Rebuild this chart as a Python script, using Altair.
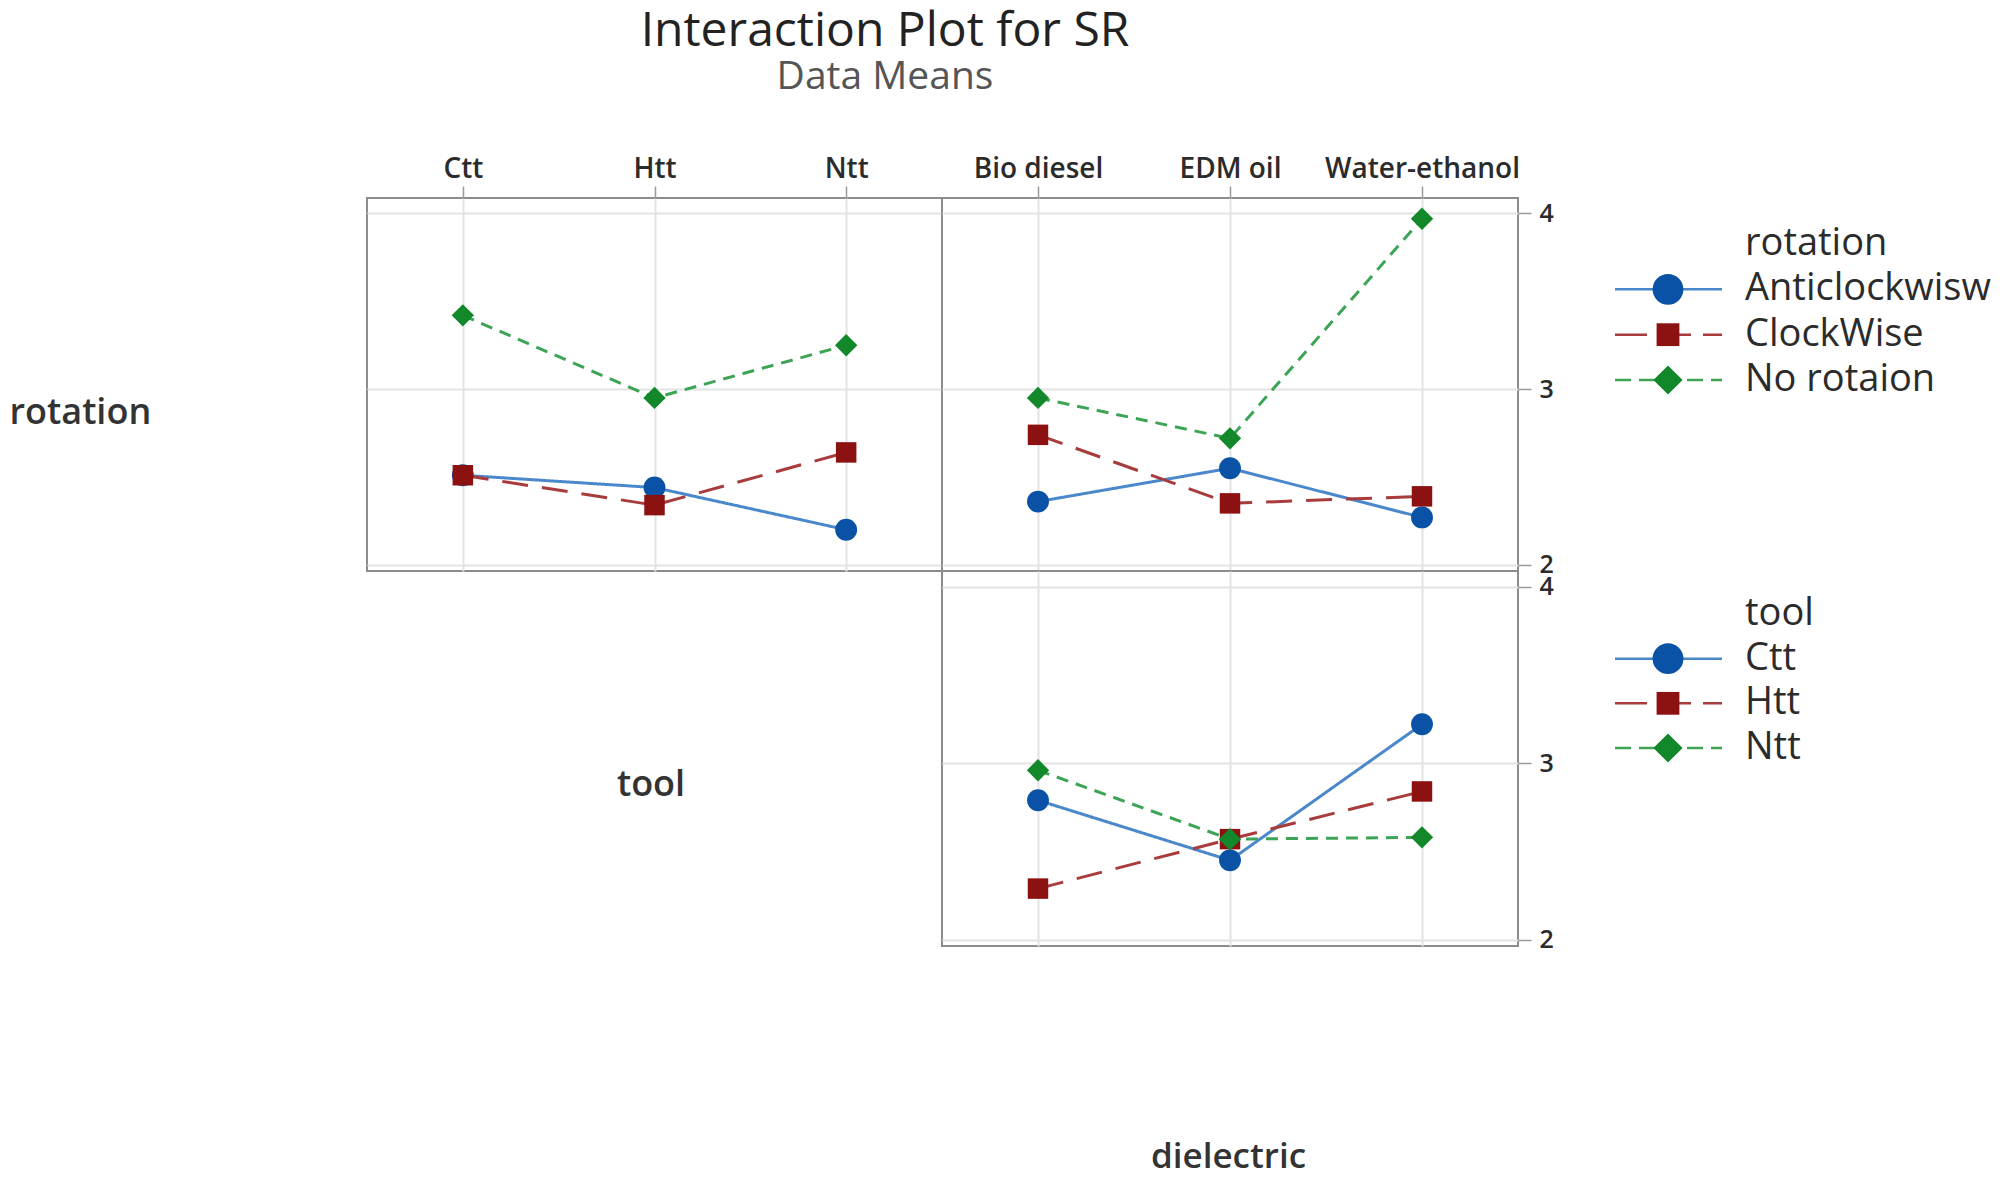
import altair as alt
import pandas as pd

FONT = "Open Sans"

# ---- categories ----
tools = ["Ctt", "Htt", "Ntt"]
dielectrics = ["Bio diesel", "EDM oil", "Water-ethanol"]
rotations = ["Anticlockwisw", "ClockWise", "No rotaion"]

# ---- data means (SR) ----
# rotation x tool (x = tool)
rt_anticlockwise = [2.51, 2.44, 2.20]
rt_clockwise = [2.51, 2.34, 2.64]
rt_norotation = [3.42, 2.95, 3.25]
# rotation x dielectric (x = dielectric)
rd_anticlockwise = [2.36, 2.55, 2.27]
rd_clockwise = [2.74, 2.35, 2.39]
rd_norotation = [2.95, 2.72, 3.97]
# tool x dielectric (x = dielectric)
td_ctt = [2.79, 2.45, 3.22]
td_htt = [2.29, 2.57, 2.84]
td_ntt = [2.96, 2.57, 2.58]

y_ticks = [2, 3, 4]

# ---- styles ----
marker_colors = ["#0A52A6", "#8C1212", "#12882A"]
line_colors = ["#4A88CB", "#A83C3C", "#3DA456"]
dash_styles = [[1, 0], [26, 14], [12, 8]]
legend_dash_styles = [[1, 0], [32, 12], [16, 8]]
shape_styles = ["circle", "square", "diamond"]
panel_sizes = [480, 420, 500]
legend_sizes = [950, 520, 850]

Y_DOMAIN = [1.965, 4.088]
GRID = "#E3E3E3"
TEXT = "#2B2B2B"
ROWLAB = "#333333"


def frame(xvals, series_names, series_values, xname, sname):
    rows = []
    for name, vals in zip(series_names, series_values):
        for xv, v in zip(xvals, vals):
            rows.append({xname: xv, sname: name, "SR": v})
    return pd.DataFrame(rows)


df_rt = frame(tools, rotations, [rt_anticlockwise, rt_clockwise, rt_norotation], "tool", "rotation")
df_rd = frame(dielectrics, rotations, [rd_anticlockwise, rd_clockwise, rd_norotation], "dielectric", "rotation")
df_td = frame(dielectrics, tools, [td_ctt, td_htt, td_ntt], "dielectric", "tool")


def panel(df, xfield, xdomain, sfield, sdomain, w, h, xaxis, yaxis):
    base = alt.Chart(df).encode(
        x=alt.X(f"{xfield}:N", sort=xdomain,
                scale=alt.Scale(type="point", domain=xdomain, padding=0.5), axis=xaxis),
        y=alt.Y("SR:Q", scale=alt.Scale(domain=Y_DOMAIN, nice=False, zero=False), axis=yaxis),
    )
    lines = base.mark_line(strokeWidth=3).encode(
        color=alt.Color(f"{sfield}:N", scale=alt.Scale(domain=sdomain, range=line_colors), legend=None),
        strokeDash=alt.StrokeDash(f"{sfield}:N", scale=alt.Scale(domain=sdomain, range=dash_styles), legend=None),
    )
    points = base.mark_point(filled=True, opacity=1).encode(
        color=alt.Color(f"{sfield}:N", scale=alt.Scale(domain=sdomain, range=marker_colors), legend=None),
        shape=alt.Shape(f"{sfield}:N", scale=alt.Scale(domain=sdomain, range=shape_styles), legend=None),
        size=alt.Size(f"{sfield}:N", scale=alt.Scale(type="ordinal", domain=sdomain, range=panel_sizes),
                      legend=None),
    )
    return alt.layer(lines, points).resolve_scale(color="independent").properties(width=w, height=h)


def top_xaxis():
    return alt.Axis(orient="top", title=None, labelAngle=0, labelFontSize=28, labelFontWeight=600,
                    labelColor=TEXT, labelPadding=3, labelLimit=400, ticks=True, tickSize=12,
                    tickColor="#9A9A9A", tickWidth=1.5, domain=False, grid=True)


def right_yaxis():
    return alt.Axis(orient="right", values=y_ticks, format="d", labelFontSize=25, labelFontWeight=600,
                    labelColor=TEXT, labelPadding=8, tickSize=13, tickColor="#9A9A9A", tickWidth=1.5,
                    domain=False, grid=True, title=None)


pA = panel(
    df_rt, "tool", tools, "rotation", rotations, 575, 373,
    top_xaxis(),
    alt.Axis(orient="left", values=y_ticks, labels=False, ticks=False, domain=False, grid=True,
             title="rotation", titleAngle=0, titleX=-358, titleY=214, titleAlign="left",
             titleBaseline="middle", titleFontSize=36, titleFontWeight=600, titleColor=ROWLAB),
)

pB = panel(df_rd, "dielectric", dielectrics, "rotation", rotations, 576, 373, top_xaxis(), right_yaxis())

pC = panel(
    df_td, "dielectric", dielectrics, "tool", tools, 576, 375,
    alt.Axis(orient="bottom", labels=False, ticks=False, domain=False, grid=True,
             title="dielectric", titleX=286, titleY=210, titleAlign="center", titleBaseline="middle",
             titleFontSize=35, titleFontWeight=600, titleColor=ROWLAB),
    right_yaxis(),
)

# empty lower-left cell carrying the "tool" row label
spacer = alt.Chart(pd.DataFrame({"label": ["tool"]})).mark_text(
    align="center", baseline="middle", fontSize=36, fontWeight=600, font=FONT, color=ROWLAB
).encode(x=alt.value(284), y=alt.value(214), text="label:N").properties(
    width=575, height=375, view=alt.ViewBackground(strokeOpacity=0))


def legend_chart(title, names, w, h, yrange):
    ydom = [title] + names
    yenc = alt.Y("label:N", scale=alt.Scale(type="point", domain=ydom, range=yrange, padding=0), axis=None)
    df_items = pd.DataFrame({"label": names})
    df_title = pd.DataFrame({"label": [title]})
    rule = alt.Chart(df_items).mark_rule(strokeWidth=2.5).encode(
        x=alt.value(97), x2=alt.value(204), y=yenc,
        color=alt.Color("label:N", scale=alt.Scale(domain=names, range=line_colors), legend=None),
        strokeDash=alt.StrokeDash("label:N", scale=alt.Scale(domain=names, range=legend_dash_styles),
                                  legend=None),
    )
    pts = alt.Chart(df_items).mark_point(filled=True, opacity=1).encode(
        x=alt.value(150), y=yenc,
        color=alt.Color("label:N", scale=alt.Scale(domain=names, range=marker_colors), legend=None),
        shape=alt.Shape("label:N", scale=alt.Scale(domain=names, range=shape_styles), legend=None),
        size=alt.Size("label:N", scale=alt.Scale(type="ordinal", domain=names, range=legend_sizes),
                      legend=None),
    )
    txt = alt.Chart(df_items).mark_text(align="left", baseline="middle", fontSize=38, font=FONT,
                                        color=TEXT).encode(x=alt.value(227), y=yenc, text="label:N")
    ttl = alt.Chart(df_title).mark_text(align="left", baseline="middle", fontSize=38, font=FONT,
                                        color=TEXT).encode(x=alt.value(227), y=yenc, text="label:N")
    return alt.layer(rule, pts, txt, ttl).resolve_scale(color="independent", size="independent").properties(
        width=w, height=h, view=alt.ViewBackground(strokeOpacity=0))


L1 = legend_chart("rotation", rotations, 470, 373, [46, 182])
L2 = legend_chart("tool", tools, 470, 375, [43, 177])

chart = alt.concat(pA, pB, L1, spacer, pC, L2, columns=3, spacing=0, bounds="flush").properties(
    title=alt.TitleParams(
        text="Interaction Plot for SR", subtitle="Data Means",
        fontSize=48, subtitleFontSize=39, font=FONT, subtitleFont=FONT,
        color="#222222", subtitleColor="#555555", fontWeight="normal",
        frame="group", anchor="start", align="center", dx=518, offset=57, subtitlePadding=2,
    ),
    padding=0,
).resolve_scale(
    size="independent", shape="independent", color="independent", strokeDash="independent"
).configure_view(
    stroke="#8C8C8C", strokeWidth=2
).configure_axis(
    labelFont=FONT, titleFont=FONT, gridColor=GRID, gridWidth=2
)

chart.save("out.html", embed_options={"renderer": "svg", "actions": False})
